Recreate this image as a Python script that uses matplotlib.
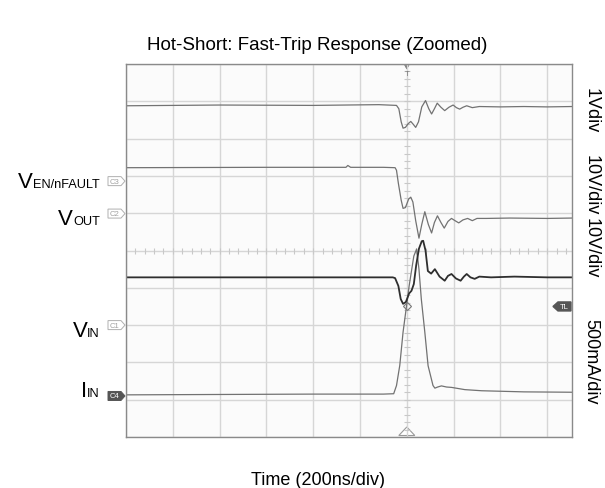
import numpy as np
import matplotlib
matplotlib.use("Agg")
import matplotlib.pyplot as plt
from matplotlib.patches import Polygon
from matplotlib.transforms import Affine2D, ScaledTranslation

plt.rcParams["font.family"] = ["Liberation Sans", "DejaVu Sans"]

# time in ns (200 ns/div, trigger at 0); trace levels in screen divisions
t_top = [-1200, -800, -400, -120, -44, -34, -24, -16, -6, 6, 17, 28, 38, 50, 64, 80, 94,
         106, 118, 130, 146, 162, 180, 198, 212, 226, 240, 256, 280, 310, 400, 500, 600, 706]
v_top = [3.88, 3.90, 3.89, 3.91, 3.89, 3.80, 3.45, 3.28, 3.30, 3.40, 3.46, 3.38, 3.30,
         3.45, 3.85, 4.02, 3.80, 3.66, 3.80, 3.95, 3.84, 3.75, 3.84, 3.90, 3.83, 3.79,
         3.84, 3.88, 3.83, 3.86, 3.85, 3.86, 3.85, 3.86]

t_en = [-1200, -600, -260, -252, -240, -100, -50, -44, -36, -24, -16, -6, 8, 17, 26, 38,
        52, 64, 77, 92, 106, 118, 131, 146, 160, 176, 191, 206, 222, 240, 260, 280, 300,
        340, 440, 600, 706]
v_en = [2.22, 2.23, 2.23, 2.28, 2.23, 2.23, 2.22, 2.15, 1.80, 1.35, 1.13, 1.15, 1.38,
        1.43, 1.30, 0.80, 0.33, 0.70, 1.04, 0.70, 0.47, 0.75, 0.93, 0.75, 0.60, 0.78,
        0.86, 0.80, 0.74, 0.82, 0.86, 0.80, 0.86, 0.86, 0.87, 0.86, 0.87]

t_in = [-1200, -600, -60, -50, -36, -26, -16, -4, 10, 20, 30, 40, 52, 64, 70, 80, 90,
        104, 120, 140, 162, 176, 191, 210, 230, 244, 256, 272, 290, 310, 360, 460, 600, 706]
v_in = [-0.72, -0.72, -0.72, -0.74, -0.95, -1.30, -1.43, -1.38, -1.15, -1.08, -0.90,
        -0.40, 0.05, 0.25, 0.26, 0.00, -0.55, -0.62, -0.50, -0.70, -0.81, -0.68, -0.63,
        -0.75, -0.81, -0.70, -0.63, -0.72, -0.76, -0.70, -0.72, -0.70, -0.72, -0.72]

t_iin = [-1200, -800, -400, -100, -56, -44, -30, -16, -1, 10, 20, 30, 42, 52, 62, 77,
         91, 112, 120, 132, 148, 170, 191, 248, 320, 500, 706]
v_iin = [-3.87, -3.86, -3.85, -3.85, -3.84, -3.62, -3.08, -2.19, -1.48, -0.95, -0.55,
         -0.15, 0.04, -0.50, -1.30, -2.19, -3.09, -3.62, -3.69, -3.66, -3.63, -3.66,
         -3.67, -3.73, -3.76, -3.79, -3.80]

channels = ["C3", "C2", "C1", "C4"]
channel_levels = [1.86, 0.99, -2.0, -3.9]
label_subs = ["EN/nFAULT", "OUT", "IN", "IN"]
label_mains = ["V", "V", "V", "I"]
label_levels = [1.70, 0.71, -2.28, -3.90]
trigger_level = -1.5
scale_labels = ["1Vdiv", "10V/div", "10V/div", "500mA/div"]

fig = plt.figure(figsize=(6.05, 4.89), dpi=100)
ax = fig.add_axes([126 / 605, 1 - 438 / 489, 446 / 605, 373 / 489])
ax.set_facecolor("#fbfbfb")
ax.set_xlim(-1200, 706)
ax.set_ylim(-5, 5)
ax.set_xticks(np.arange(-1200, 706, 200))
ax.set_yticks(np.arange(-5, 6, 1))
ax.grid(True, color="#d6d6d6", lw=1.0)
ax.tick_params(length=0, labelbottom=False, labelleft=False)
for s in ax.spines.values():
    s.set_color("#8a8a8a")
    s.set_linewidth(1.0)

# centre graticule ticks
ax.plot(np.zeros(51), np.linspace(-5, 5, 51), ls="none", marker="_", ms=5,
        color="#c8c8c8", mew=0.8)
ax.plot(np.arange(-1200, 706, 40), np.zeros(len(np.arange(-1200, 706, 40))), ls="none",
        marker="|", ms=5, color="#c8c8c8", mew=0.8)

ax.plot(t_top, v_top, color="#727272", lw=0.9)
ax.plot(t_en, v_en, color="#727272", lw=0.9)
ax.plot(t_iin, v_iin, color="#727272", lw=0.9)
ax.plot(t_in, v_in, color="#2e2e2e", lw=1.3)
ax.plot([0], [trigger_level], marker="D", ms=4, mfc="none", mec="#777777", mew=0.8)

px = Affine2D().scale(0.01) + fig.dpi_scale_trans


def anchored(x, y, base):
    return px + ScaledTranslation(x, y, base)


yax = ax.get_yaxis_transform()
xax = ax.get_xaxis_transform()

for name, lvl in zip(channels, channel_levels):
    filled = name == "C4"
    tr = anchored(0, lvl, yax)
    verts = [(-1, 0), (-5, 4.5), (-18, 4.5), (-18, -4.5), (-5, -4.5)]
    ax.add_patch(Polygon(verts, closed=True, transform=tr, clip_on=False,
                         fc="#555555" if filled else "white",
                         ec="#555555" if filled else "#b0b0b0", lw=0.7))
    ax.text(-11, 0, name, transform=tr, ha="center", va="center", fontsize=5.5,
            color="white" if filled else "#a0a0a0", clip_on=False)

tr = anchored(1, trigger_level, yax)
ax.add_patch(Polygon([(-19, 0), (-14, 4.5), (-1, 4.5), (-1, -4.5), (-14, -4.5)],
                     closed=True, transform=tr, clip_on=False, fc="#555555", ec="#555555"))
ax.text(-8, 0, "TL", transform=tr, ha="center", va="center", fontsize=5.5,
        color="white", clip_on=False)

tr = anchored(0, 1, xax)
ax.add_patch(Polygon([(-2.5, -0.5), (2.5, -0.5), (0, -5)], closed=True, transform=tr,
                     clip_on=False, fc="#777777", ec="#777777", lw=0.5))
ax.text(0, -6, "T", transform=tr, ha="center", va="top", fontsize=5.5, color="#777777")

tr = anchored(0, 0, xax)
ax.add_patch(Polygon([(-8, 1.5), (8, 1.5), (0, 10)], closed=True, transform=tr,
                     clip_on=False, fc="white", ec="#999999", lw=0.8))

for main, sub, lvl in zip(label_mains, label_subs, label_levels):
    s = ax.text(-26 / 446, lvl, sub, transform=yax, ha="right", va="baseline",
                fontsize=9.2, color="black")
    ax.annotate(main, xy=(0, 0), xycoords=s, xytext=(0, 2), textcoords="offset points",
                ha="right", va="baseline", fontsize=16, color="black")

for txt, yc in zip(scale_labels, [111, 185, 248, 362]):
    fig.text(591 / 605, 1 - yc / 489, txt, rotation=270, ha="center", va="center",
             fontsize=13)

fig.text(317 / 605, 1 - 45 / 489, "Hot-Short: Fast-Trip Response (Zoomed)",
         ha="center", va="center", fontsize=13.5)
fig.text(318 / 605, 1 - 481 / 489, "Time (200ns/div)", ha="center", va="center",
         fontsize=13)

fig.savefig("out.png", dpi=100)
